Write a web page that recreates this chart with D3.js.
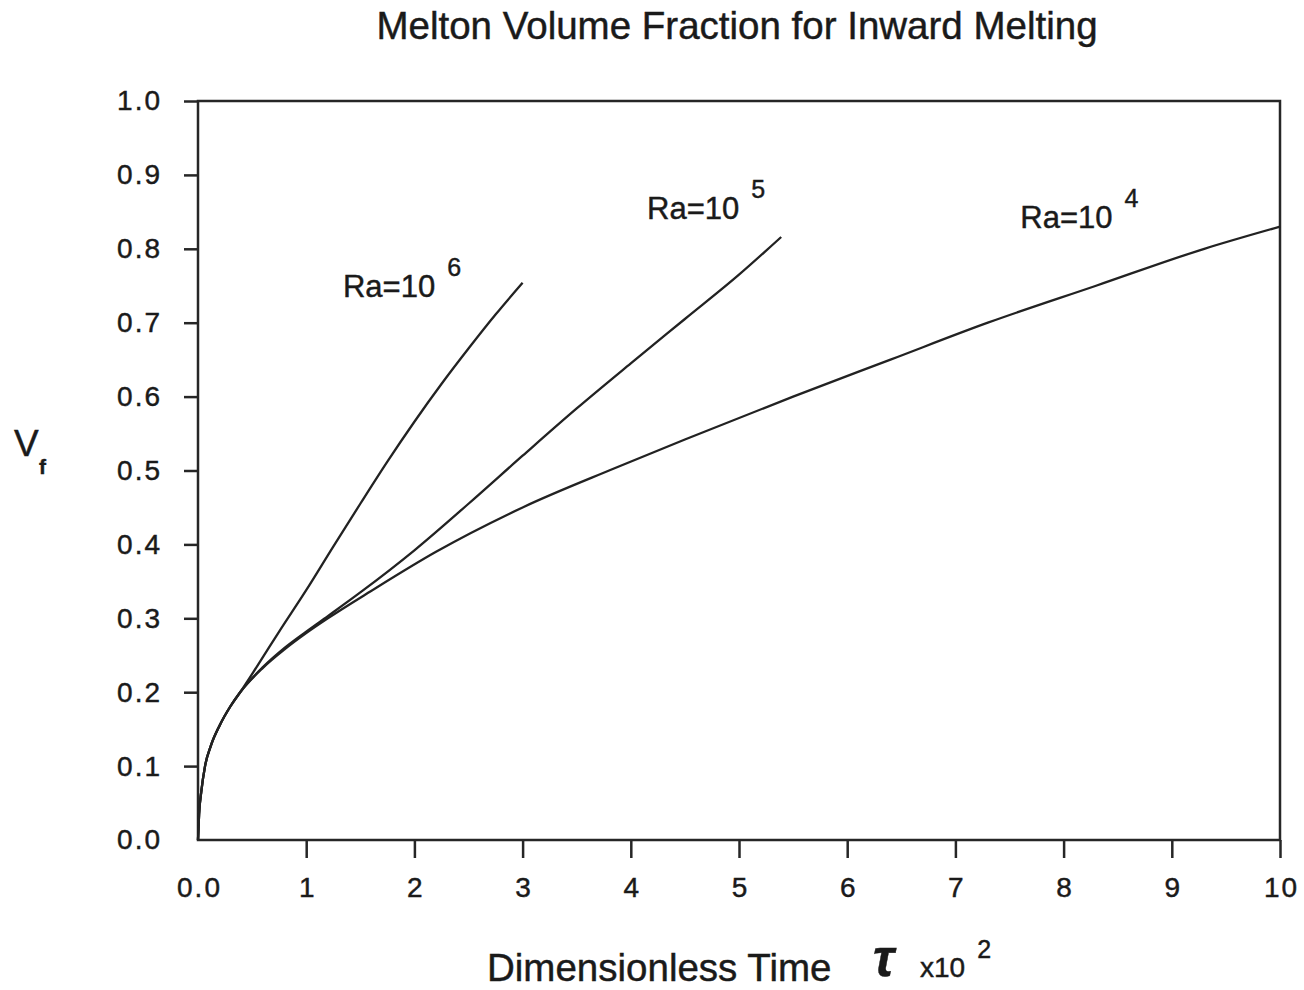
<!DOCTYPE html>
<html>
<head>
<meta charset="utf-8">
<script src="https://cdn.jsdelivr.net/npm/d3@7"></script>
<style>
  html, body { margin: 0; padding: 0; background: #fff; }
  svg { display: block; }
  text { font-family: "Liberation Sans", Arial, Helvetica, sans-serif; fill: #1a1a1a; stroke: #1a1a1a; stroke-width: 0.45px; }
</style>
</head>
<body>
<svg id="chart" width="1304" height="990"></svg>
<script>
// ---- data ----
const xTicks = [0, 1, 2, 3, 4, 5, 6, 7, 8, 9, 10];
const xTickLabels = ["0.0", "1", "2", "3", "4", "5", "6", "7", "8", "9", "10"];
const yTicks = [0, 0.1, 0.2, 0.3, 0.4, 0.5, 0.6, 0.7, 0.8, 0.9, 1.0];
const yTickLabels = ["0.0", "0.1", "0.2", "0.3", "0.4", "0.5", "0.6", "0.7", "0.8", "0.9", "1.0"];

// tau (x10^2), Vf
const ra6 = [[0,0],[0.01,0.035],[0.03,0.065],[0.065,0.1],[0.12,0.128],[0.2,0.155],[0.3,0.181],[0.39,0.2],[0.55,0.236],[0.75,0.282],[1.0,0.338],[1.25,0.397],[1.5,0.455],[1.75,0.512],[2.0,0.566],[2.25,0.617],[2.5,0.665],[2.75,0.711],[3.0,0.754]];
const ra5 = [[0,0],[0.01,0.035],[0.03,0.065],[0.065,0.1],[0.12,0.128],[0.2,0.155],[0.3,0.181],[0.39,0.2],[0.6,0.234],[0.8,0.26],[1.0,0.282],[1.2,0.303],[1.5,0.335],[2.0,0.392],[2.5,0.455],[3.0,0.52],[3.5,0.584],[4.0,0.645],[4.5,0.705],[5.0,0.765],[5.39,0.816]];
const ra4 = [[0,0],[0.01,0.035],[0.03,0.065],[0.065,0.1],[0.12,0.128],[0.2,0.155],[0.3,0.181],[0.39,0.2],[0.6,0.233],[0.8,0.258],[1.0,0.28],[1.2,0.3],[1.6,0.337],[2.2,0.39],[3.0,0.45],[3.85,0.503],[4.5,0.542],[5.5,0.6],[6.4,0.65],[7.3,0.7],[8.3,0.75],[9.3,0.8],[10.0,0.83]];
const seriesLabels = [
  {name: "Ra6", data: ra6, base: "Ra=10", exp: "6", at: [1.34, 0.735]},
  {name: "Ra5", data: ra5, base: "Ra=10", exp: "5", at: [4.15, 0.84]},
  {name: "Ra4", data: ra4, base: "Ra=10", exp: "4", at: [7.6, 0.828]}
];

// ---- layout ----
const svg = d3.select("#chart");
const x = d3.scaleLinear().domain([0, 10]).range([198, 1280]);
const y = d3.scaleLinear().domain([0, 1]).range([840, 101]);
const ink = "#262626";

// title
svg.append("text").attr("x", 737).attr("y", 39).attr("text-anchor", "middle")
  .attr("font-size", 38.5).text("Melton Volume Fraction for Inward Melting");

// frame
svg.append("rect").attr("x", x(0)).attr("y", y(1)).attr("width", x(10) - x(0)).attr("height", y(0) - y(1))
  .attr("fill", "none").attr("stroke", ink).attr("stroke-width", 2.5);

// x axis
const xAxis = d3.axisBottom(x).tickValues(xTicks).tickSizeInner(18).tickSizeOuter(0)
  .tickPadding(19).tickFormat((d, i) => xTickLabels[i]);
const gx = svg.append("g").attr("transform", `translate(0,${y(0)})`).call(xAxis);
gx.select(".domain").remove();
gx.selectAll(".tick line").attr("stroke", ink).attr("stroke-width", 2.5)
  .attr("display", d => d === 0 ? "none" : null);
gx.selectAll(".tick text").attr("font-size", 28).attr("letter-spacing", 2).attr("dx", 1)
  .attr("fill", "#1a1a1a").attr("font-family", "Liberation Sans, Arial, sans-serif");

// y axis
const yAxis = d3.axisLeft(y).tickValues(yTicks).tickSizeInner(14).tickSizeOuter(0)
  .tickPadding(22).tickFormat((d, i) => yTickLabels[i]);
const gy = svg.append("g").attr("transform", `translate(${x(0)},0)`).call(yAxis);
gy.select(".domain").remove();
gy.selectAll(".tick line").attr("stroke", ink).attr("stroke-width", 2.5)
  .attr("display", d => d === 0 ? "none" : null);
gy.selectAll(".tick text").attr("font-size", 28).attr("letter-spacing", 2)
  .attr("fill", "#1a1a1a").attr("font-family", "Liberation Sans, Arial, sans-serif");

// curves
const line = d3.line().x(d => x(d[0])).y(d => y(d[1])).curve(d3.curveMonotoneX);
seriesLabels.forEach(s => {
  svg.append("path").datum(s.data).attr("d", line)
    .attr("fill", "none").attr("stroke", "#222").attr("stroke-width", 2.3);
  const t = svg.append("text").attr("x", x(s.at[0])).attr("y", y(s.at[1])).attr("font-size", 31);
  t.append("tspan").text(s.base);
  t.append("tspan").attr("dx", 12).attr("dy", -21).attr("font-size", 25).text(s.exp);
});

// y label
svg.append("text").attr("x", 14).attr("y", 456).attr("font-size", 37).text("V");
svg.append("text").attr("x", 39).attr("y", 474).attr("font-size", 21).attr("font-weight", "bold").text("f");

// x label
svg.append("text").attr("x", 487).attr("y", 981).attr("font-size", 38.5).text("Dimensionless Time");
svg.append("text").attr("x", 873).attr("y", 976).attr("font-size", 52).attr("font-style", "italic")
  .attr("font-weight", "bold").attr("font-family", "DejaVu Serif, serif").text("τ");
const xs = svg.append("text").attr("x", 920).attr("y", 977).attr("font-size", 28);
xs.append("tspan").text("x10");
xs.append("tspan").attr("dx", 12).attr("dy", -19).attr("font-size", 25).text("2");
</script>
</body>
</html>
